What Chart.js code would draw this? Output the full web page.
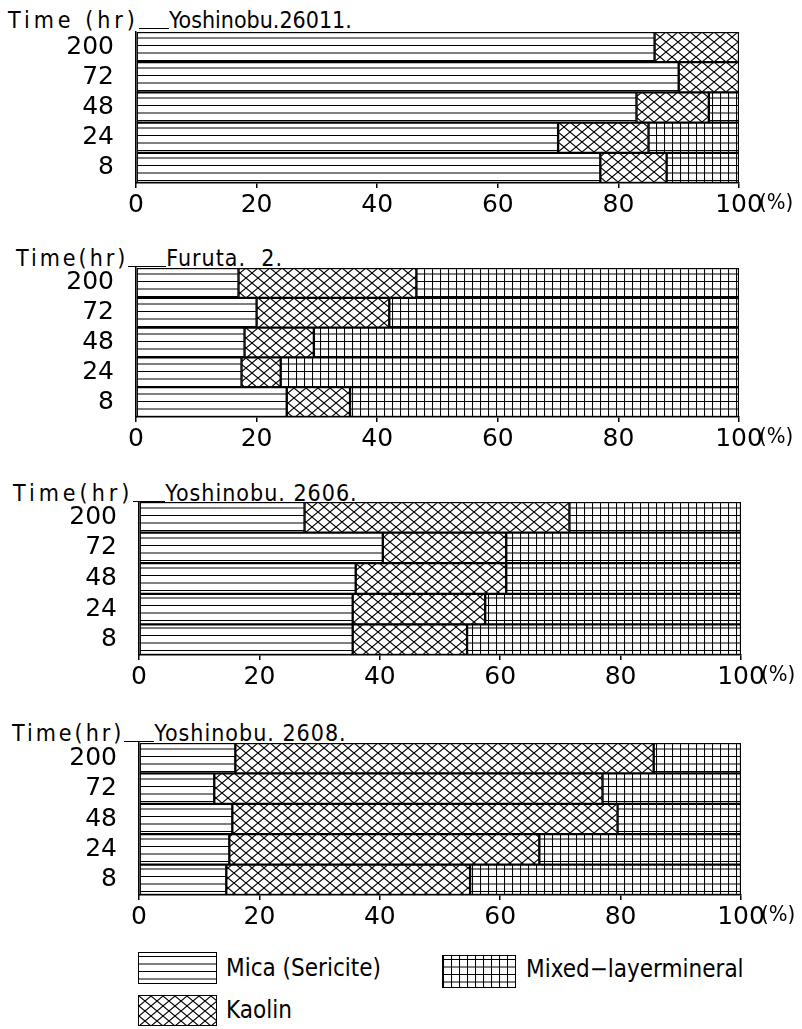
<!DOCTYPE html>
<html>
<head>
<meta charset="utf-8">
<script src="https://cdn.jsdelivr.net/npm/chart.js@4"></script>
<style>
body { margin: 0; background: #fff; width: 802px; height: 1029px; position: relative; overflow: hidden;
  font-family: 'DejaVu Sans', sans-serif; font-stretch: condensed; color: #000; }
canvas.c { position: absolute; left: 0; }
.hdr { position: absolute; font-size: 23px; line-height: 24px; white-space: nowrap; }
.hdr .t { display: inline-block; }
.hdr .u { display: inline-block; border-bottom: 1.5px solid #000; height: 20px; vertical-align: top; }
.leg { position: absolute; font-size: 24px; line-height: 26px; white-space: nowrap; }
.box { position: absolute; border: 1.5px solid #000; box-sizing: border-box; }
</style>
</head>
<body>

<div class="hdr" style="left:8px;top:8px"><span class="t" style="letter-spacing:4px">Time (hr)</span><span class="u" style="width:30px"></span><span class="t">Yoshinobu.26011.</span></div>
<canvas class="c" id="ch1"></canvas>

<div class="hdr" style="left:16px;top:246px"><span class="t" style="letter-spacing:3px">Time(hr)</span><span class="u" style="width:38px"></span><span class="t" style="letter-spacing:1px">Furuta.&nbsp; 2.</span></div>
<canvas class="c" id="ch2"></canvas>

<div class="hdr" style="left:13px;top:481px"><span class="t" style="letter-spacing:4px">Time(hr)</span><span class="u" style="width:32px"></span><span class="t" style="letter-spacing:1px">Yoshinobu. 2606.</span></div>
<canvas class="c" id="ch3"></canvas>

<div class="hdr" style="left:12px;top:721px"><span class="t" style="letter-spacing:3px">Time(hr)</span><span class="u" style="width:30px"></span><span class="t" style="letter-spacing:1px">Yoshinobu. 2608.</span></div>
<canvas class="c" id="ch4"></canvas>

<canvas class="box" id="lgMica" width="77" height="30" style="left:138px;top:952px"></canvas>
<div class="leg" style="left:226px;top:955px">Mica (Sericite)</div>
<canvas class="box" id="lgMixed" width="72" height="31" style="left:442px;top:955px"></canvas>
<div class="leg" style="left:526px;top:956px">Mixed−layermineral</div>
<canvas class="box" id="lgKaolin" width="77" height="29" style="left:138px;top:995px"></canvas>
<div class="leg" style="left:226px;top:997px">Kaolin</div>

<script>
const FONT = "'DejaVu Sans', sans-serif";

const times = ['200', '72', '48', '24', '8'];

// Yoshinobu.26011.
const mica1 = [86, 90, 83, 70, 77];
const kaolin1 = [14, 10, 12, 15, 11];
const mixed1 = [0, 0, 5, 15, 12];

// Furuta. 2.
const mica2 = [17, 20, 18, 17.5, 25];
const kaolin2 = [29.5, 22, 11.5, 6.5, 10.5];
const mixed2 = [53.5, 58, 70.5, 76, 64.5];

// Yoshinobu. 2606.
const mica3 = [27.5, 40.5, 36, 35.5, 35.5];
const kaolin3 = [44, 20.5, 25, 22, 19];
const mixed3 = [28.5, 39, 39, 42.5, 45.5];

// Yoshinobu. 2608.
const mica4 = [16, 12.5, 15.5, 15, 14.5];
const kaolin4 = [69.5, 64.5, 64, 51.5, 40.5];
const mixed4 = [14.5, 23, 20.5, 33.5, 45];

// hatch patterns
function tile(w, h, draw) {
  const c = document.createElement('canvas');
  c.width = w; c.height = h;
  const g = c.getContext('2d');
  g.fillStyle = '#fff'; g.fillRect(0, 0, w, h);
  g.strokeStyle = '#000'; g.lineWidth = 1.1;
  g.beginPath(); draw(g); g.stroke();
  return c;
}
const micaTile = tile(10, 15, g => {
  g.moveTo(0, 3.5); g.lineTo(10, 3.5);
  g.moveTo(0, 11); g.lineTo(10, 11);
});
const kaolinTile = tile(12, 10, g => {
  g.moveTo(0, 0); g.lineTo(12, 10);
  g.moveTo(12, 0); g.lineTo(0, 10);
});
const mixedTile = tile(8, 15, g => {
  g.moveTo(0.5, 0); g.lineTo(0.5, 15);
  g.moveTo(0, 3.5); g.lineTo(8, 3.5);
  g.moveTo(0, 11); g.lineTo(8, 11);
});
const pat = t => document.createElement('canvas').getContext('2d').createPattern(t, 'repeat');
const pMica = pat(micaTile), pKaolin = pat(kaolinTile), pMixed = pat(mixedTile);

// "(%)" after the 100 tick
const pctPlugin = {
  id: 'pct',
  afterDraw(chart) {
    const x = chart.scales.x;
    const ctx = chart.ctx;
    ctx.save();
    ctx.font = 'condensed 22px ' + FONT;
    ctx.fillStyle = '#000';
    ctx.textBaseline = 'middle';
    ctx.fillText('(%)', x.getPixelForValue(100) + 20, x.top + 20);
    ctx.restore();
  }
};

const tickFont = { size: 25, family: FONT, style: 'condensed' };

function makeChart(id, top, left, right, plotH, mica, kaolin, mixed) {
  const cv = document.getElementById(id);
  cv.width = 802;
  cv.height = 5 + plotH + 40;
  cv.style.top = (top - 5) + 'px';
  return new Chart(cv, {
    type: 'bar',
    data: {
      labels: times,
      datasets: [
        { label: 'Mica (Sericite)', data: mica, backgroundColor: pMica },
        { label: 'Kaolin', data: kaolin, backgroundColor: pKaolin },
        { label: 'Mixed-layer mineral', data: mixed, backgroundColor: pMixed },
      ],
    },
    options: {
      indexAxis: 'y',
      responsive: false,
      animation: false,
      datasets: {
        bar: { borderColor: '#000', borderWidth: 1.5, borderSkipped: false, categoryPercentage: 1, barPercentage: 1 },
      },
      layout: { padding: { top: 5, right: 802 - right, left: 0, bottom: 0 } },
      plugins: { legend: { display: false }, tooltip: { enabled: false } },
      scales: {
        x: {
          stacked: true, min: 0, max: 100,
          grid: { drawOnChartArea: false, drawTicks: true, tickLength: 5, color: '#000', lineWidth: 1.5 },
          border: { display: true, color: '#000', width: 1.5 },
          ticks: { stepSize: 20, color: '#000', font: tickFont, padding: 2, maxRotation: 0, autoSkip: false },
          afterFit: s => { s.height = 40; s.paddingLeft = 0; s.paddingRight = 0; },
        },
        y: {
          stacked: true,
          grid: { display: false },
          border: { display: true, color: '#000', width: 1.5 },
          ticks: { color: '#000', font: tickFont, padding: 14, autoSkip: false },
          afterFit: s => { s.width = left; s.paddingTop = 0; s.paddingBottom = 0; },
        },
      },
    },
    plugins: [pctPlugin],
  });
}

makeChart('ch1', 32, 136, 739, 151, mica1, kaolin1, mixed1);
makeChart('ch2', 268, 136, 739, 149, mica2, kaolin2, mixed2);
makeChart('ch3', 502, 139, 741, 153, mica3, kaolin3, mixed3);
makeChart('ch4', 743, 139, 741, 152, mica4, kaolin4, mixed4);

// legend swatches
function swatch(id, p) {
  const c = document.getElementById(id);
  const g = c.getContext('2d');
  g.fillStyle = p;
  g.fillRect(0, 0, c.width, c.height);
}
swatch('lgMica', pMica);
swatch('lgMixed', pMixed);
swatch('lgKaolin', pKaolin);
</script>
</body>
</html>
